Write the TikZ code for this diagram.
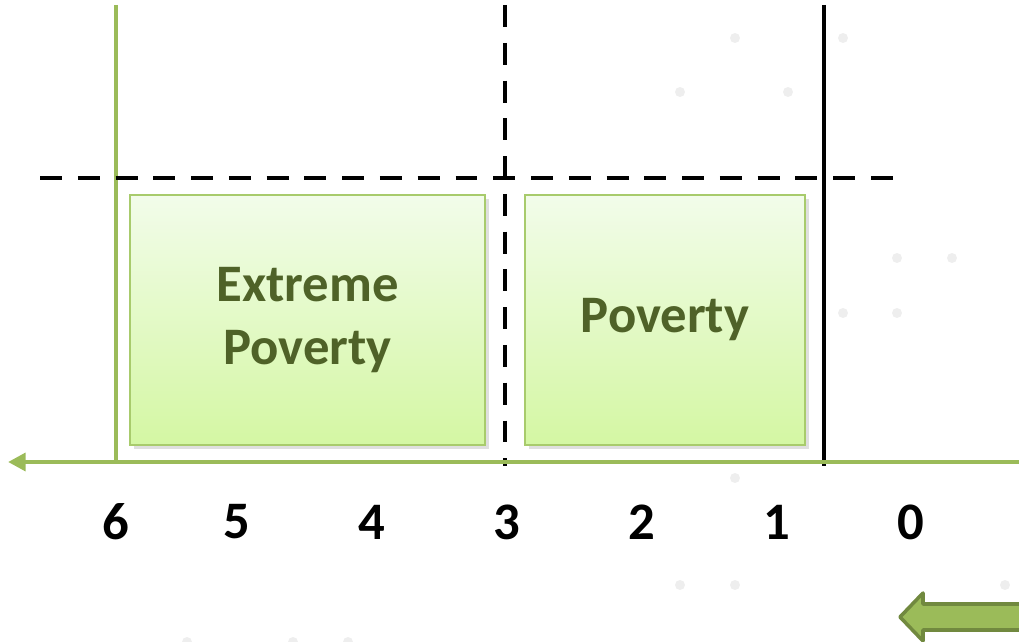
\documentclass[tikz,border=0pt]{standalone}
\usepackage{fontspec}
\setmainfont{Carlito}
\usetikzlibrary{arrows.meta,shadows}

\definecolor{axisgreen}{HTML}{9BBB59}
\definecolor{darkgreen}{HTML}{71893F}
\definecolor{textgreen}{HTML}{4F6228}
\definecolor{boxtop}{HTML}{F2FCEA}
\definecolor{boxbottom}{HTML}{D4F7A3}
\definecolor{boxline}{HTML}{A8CB6C}
\definecolor{dotgray}{HTML}{EEEEEE}

\tikzset{
    povbox/.style={draw=boxline, line width=0.8pt, top color=boxtop, bottom color=boxbottom,
        drop shadow={opacity=0.25, shadow xshift=2pt, shadow yshift=-2pt},
        align=center, font=\fontsize{30}{36}\selectfont\bfseries, text=textgreen},
    numlabel/.style={font=\fontsize{30}{32}\selectfont\bfseries, text=black},
    cutline/.style={line width=2.8pt, dash pattern=on 12.5pt off 9pt},
    greenline/.style={draw=axisgreen, line width=2.8pt}
}

\begin{document}
\begin{tikzpicture}[x=0.02cm, y=-0.02cm]

        \useasboundingbox (0,0) rectangle (1019,642);  % same size as the reference

        % Faint dots in the background
        \foreach \dx/\dy in {735/38, 843/38, 680/92, 788/92, 897/258, 952/258, 843/313, 897/313,
                             735/478, 680/585, 735/585, 1005/585, 187/642, 293/642, 348/642}
            \fill[dotgray] (\dx,\dy) circle (5);

        % Boxes for the two bands
        \node[povbox, minimum width=355*0.02cm, minimum height=250*0.02cm] (extreme) at (307.5,320) {Extreme\\Poverty};
        \node[povbox, minimum width=280*0.02cm, minimum height=250*0.02cm] (poverty) at (665,320) {Poverty};

        % Points on the axis
        \coordinate (axisend) at (1019,462);
        \coordinate (axistip) at (8,462);
        \coordinate (greentop) at (116,5);
        \coordinate (greenbottom) at (116,462);
        \coordinate (midtop) at (505,5);
        \coordinate (midbottom) at (505,466);
        \coordinate (linetop) at (824,5);
        \coordinate (linebottom) at (824,466);
        \coordinate (dashleft) at (40,178);
        \coordinate (dashright) at (902,178);

        % The lines
        \draw[greenline] (greentop) -- (greenbottom);
        \draw[line width=2.3pt] (linetop) -- (linebottom);
        \draw[cutline] (midtop) -- (midbottom);
        \draw[cutline] (dashleft) -- (dashright);
        \draw[greenline, -{Triangle[length=10pt, width=10pt]}] (axisend) -- (axistip);

        % Numbers under the axis
        \node[numlabel] (n6) at (116,522) {6};
        \node[numlabel] (n5) at (237,522) {5};
        \node[numlabel] (n4) at (372,522) {4};
        \node[numlabel] (n3) at (507,522) {3};
        \node[numlabel] (n2) at (642,522) {2};
        \node[numlabel] (n1) at (777,522) {1};
        \node[numlabel] (n0) at (911,522) {0};

        % Big arrow in the corner
        \draw[fill=axisgreen, draw=darkgreen, line width=2pt, line join=round]
            (1025,604) -- (923,604) -- (923,593) -- (900,617) -- (923,641) -- (923,630) -- (1025,630) -- cycle;

\end{tikzpicture}
\end{document}
